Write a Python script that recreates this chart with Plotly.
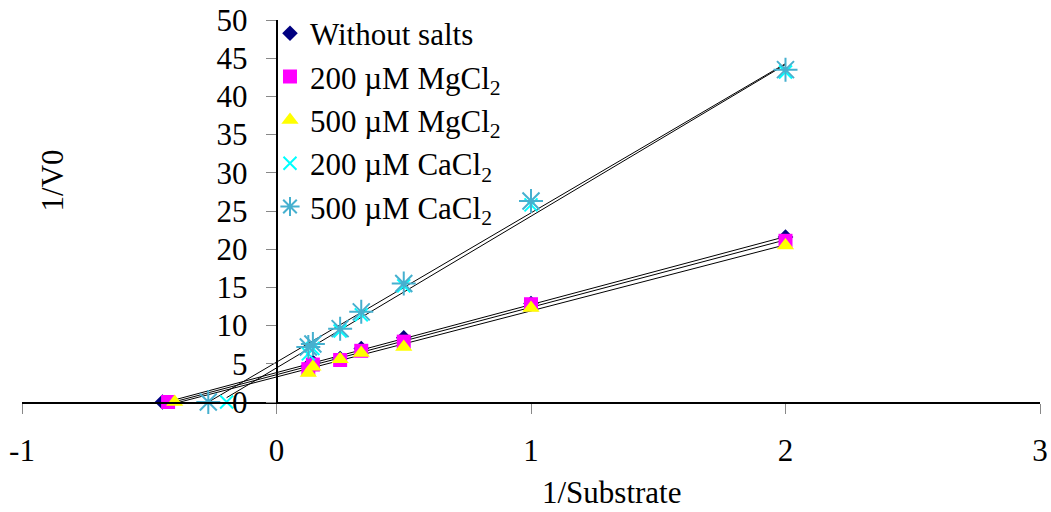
import numpy as np
import plotly.graph_objects as go

# 1/Substrate values (last value of each series is the x-intercept point)
x_common = [2, 1, 0.5, 0.333, 0.25, 0.143, 0.125]

names = ["Without salts", "200 µM MgCl<sub>2</sub>", "500 µM MgCl<sub>2</sub>",
         "200 µM CaCl<sub>2</sub>", "500 µM CaCl<sub>2</sub>"]

x_without = x_common + [-0.448]
y_without = [21.6, 12.9, 8.4, 7.0, 5.7, 5.2, 4.7, 0]

x_mg200 = x_common + [-0.426]
y_mg200 = [21.1, 12.8, 7.9, 6.7, 5.5, 4.9, 4.3, 0]

x_mg500 = x_common + [-0.40]
y_mg500 = [20.5, 12.3, 7.2, 6.4, 5.6, 4.6, 3.8, 0]

x_ca200 = x_common + [-0.196]
y_ca200 = [43.2, 25.8, 15.2, 11.4, 9.3, 7.0, 6.3, 0]

x_ca500 = x_common + [-0.268]
y_ca500 = [43.5, 26.3, 15.5, 11.8, 9.6, 7.6, 7.2, 0]

x_tickvals = [-1, 0, 1, 2, 3]
x_ticktext = ["-1", "0", "1", "2", "3"]

series = [
    (names[0], x_without, y_without, "diamond", "#000080", 12),
    (names[1], x_mg200, y_mg200, "square", "#FF00FF", 14),
    (names[2], x_mg500, y_mg500, "triangle-up", "#FFFF00", 15),
    (names[3], x_ca200, y_ca200, "x-thin-open", "#00FFFF", 13),
    (names[4], x_ca500, y_ca500, "asterisk-open", "#46B0CF", 20),
]

FONT = "Liberation Serif, Times New Roman, serif"
FS = 31

fig = go.Figure()

# linear trendlines (least squares) over each series' x range
for name, xs, ys, sym, col, sz in series:
    k, b = np.polyfit(xs, ys, 1)
    xl = np.array([min(xs), max(xs)])
    fig.add_trace(go.Scatter(x=xl, y=k * xl + b, mode="lines",
                             line=dict(color="black", width=1),
                             showlegend=False, hoverinfo="skip"))

for name, xs, ys, sym, col, sz in series:
    lw = 2 if "open" in sym else 0
    fig.add_trace(go.Scatter(x=xs, y=ys, mode="markers", name=name,
                             cliponaxis=False,
                             marker=dict(symbol=sym, color=col, size=sz,
                                         line=dict(color=col, width=lw))))

fig.update_layout(
    width=1051, height=512,
    margin=dict(l=22, r=11, t=20, b=110, autoexpand=False),
    paper_bgcolor="white", plot_bgcolor="white",
    font=dict(family=FONT, size=FS, color="black"),
    showlegend=True,
    legend=dict(x=0.2436, y=1.035, xanchor="left", yanchor="top",
                bgcolor="rgba(0,0,0,0)", font=dict(size=FS, family=FONT),
                itemwidth=30, tracegroupgap=0),
    xaxis=dict(range=[-1, 3], tickvals=x_tickvals, ticktext=x_ticktext,
               showgrid=False, zeroline=False,
               showline=True, linecolor="black", linewidth=1.5,
               ticks="outside", ticklen=10, tickcolor="#888888", tickwidth=1,
               ticklabelstandoff=10, tickfont=dict(size=FS, family=FONT)),
    yaxis=dict(range=[0, 50], dtick=5, showgrid=False, zeroline=False,
               anchor="free", position=0.25,
               showline=True, linecolor="black", linewidth=1.5,
               ticks="outside", ticklen=10, tickcolor="#888888", tickwidth=1,
               ticklabelstandoff=12, tickfont=dict(size=FS, family=FONT)),
    annotations=[
        dict(text="1/V0", xref="paper", yref="paper", x=0.0295, y=0.58,
             textangle=-90, showarrow=False, font=dict(size=FS, family=FONT),
             xanchor="center", yanchor="middle"),
        dict(text="1/Substrate", xref="paper", yref="paper", x=0.58, y=-0.237,
             showarrow=False, font=dict(size=FS, family=FONT),
             xanchor="center", yanchor="middle"),
    ],
)

fig.write_html("out.html")
